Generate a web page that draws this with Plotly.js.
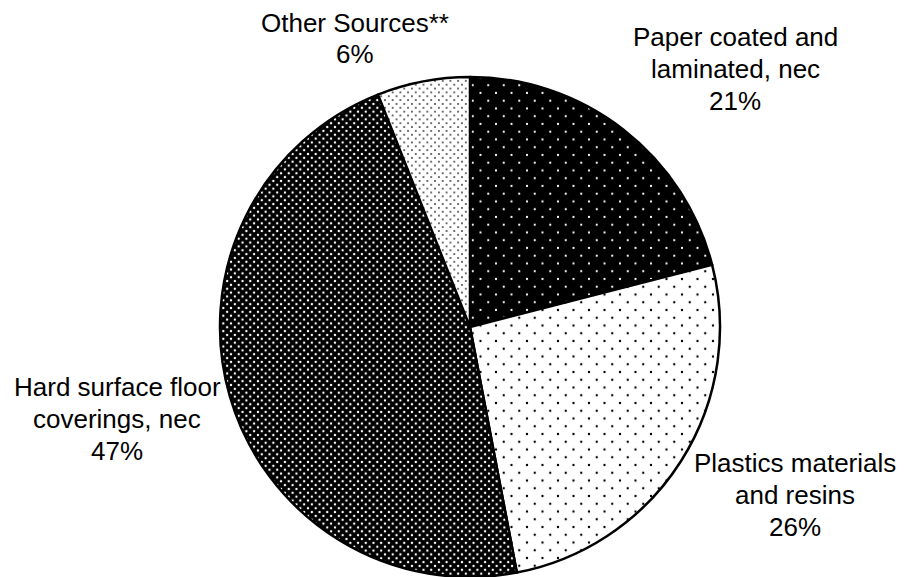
<!DOCTYPE html>
<html>
<head>
<meta charset="utf-8">
<script src="https://cdn.plot.ly/plotly-3.0.1.min.js"></script>
<style>html,body{margin:0;padding:0;background:#fff;}#chart{width:904px;height:577px;}</style>
</head>
<body>
<div id="chart"></div>
<script>
const categories = ["Paper coated and laminated, nec", "Plastics materials and resins", "Hard surface floor coverings, nec", "Other Sources**"];
const values = [21, 26, 47, 6];
const labelLines = [
  ["Paper coated and", "laminated, nec", "21%"],
  ["Plastics materials", "and resins", "26%"],
  ["Hard surface floor", "coverings, nec", "47%"],
  ["Other Sources**", "6%"]
];

const bgColors = ["#000000", "#ffffff", "#000000", "#ffffff"];
const fgColors = ["#ffffff", "#000000", "#ffffff", "#404040"];
const patternSizes = [15.5, 15.5, 7.7, 7.7];
const solidities = [0.016, 0.018, 0.076, 0.053];

// label anchors (pixel centre of first line) and line pitch
const labelX = [735, 795, 117, 355];
const labelY = [37, 462.5, 387, 22.5];
const linePitch = 32;

const W = 904, H = 577;
const cx = 470, cy = 327, R = 250;

const trace = {
  type: "pie",
  values: values,
  labels: categories,
  sort: false,
  direction: "clockwise",
  rotation: 0,
  textinfo: "none",
  hoverinfo: "label+percent",
  showlegend: false,
  domain: {x: [(cx - R) / W, (cx + R) / W], y: [1 - (cy + R) / H, 1 - (cy - R) / H]},
  marker: {
    colors: bgColors,
    line: {color: "#000000", width: 2.5},
    pattern: {
      shape: ".",
      fillmode: "replace",
      bgcolor: bgColors,
      fgcolor: fgColors,
      size: patternSizes,
      solidity: solidities
    }
  }
};

const annotations = [];
labelLines.forEach((lines, i) => {
  lines.forEach((t, j) => {
    annotations.push({
      x: labelX[i] / W,
      y: 1 - (labelY[i] + j * linePitch) / H,
      xref: "paper",
      yref: "paper",
      text: t,
      showarrow: false,
      xanchor: "center",
      yanchor: "middle",
      font: {family: "Liberation Sans, Arial, sans-serif", size: 26, color: "#000000"}
    });
  });
});

const layout = {
  width: W,
  height: H,
  margin: {l: 0, r: 0, t: 0, b: 0},
  paper_bgcolor: "#ffffff",
  plot_bgcolor: "#ffffff",
  annotations: annotations
};

Plotly.newPlot("chart", [trace], layout, {displayModeBar: false, staticPlot: true}).then(() => {
  // make the dot patterns staggered (extra dots at tile corners)
  document.querySelectorAll("#chart pattern").forEach(p => {
    const w = parseFloat(p.getAttribute("width"));
    const h = parseFloat(p.getAttribute("height"));
    const kids = Array.from(p.children);
    const dot = kids[kids.length - 1];
    if (!dot || !(w > 0)) return;
    [[-1, -1], [1, -1], [-1, 1], [1, 1]].forEach(([sx, sy]) => {
      const c = dot.cloneNode(true);
      const prev = c.getAttribute("transform") || "";
      c.setAttribute("transform", "translate(" + (sx * w / 2) + "," + (sy * h / 2) + ") " + prev);
      p.appendChild(c);
    });
  });
});
</script>
</body>
</html>
